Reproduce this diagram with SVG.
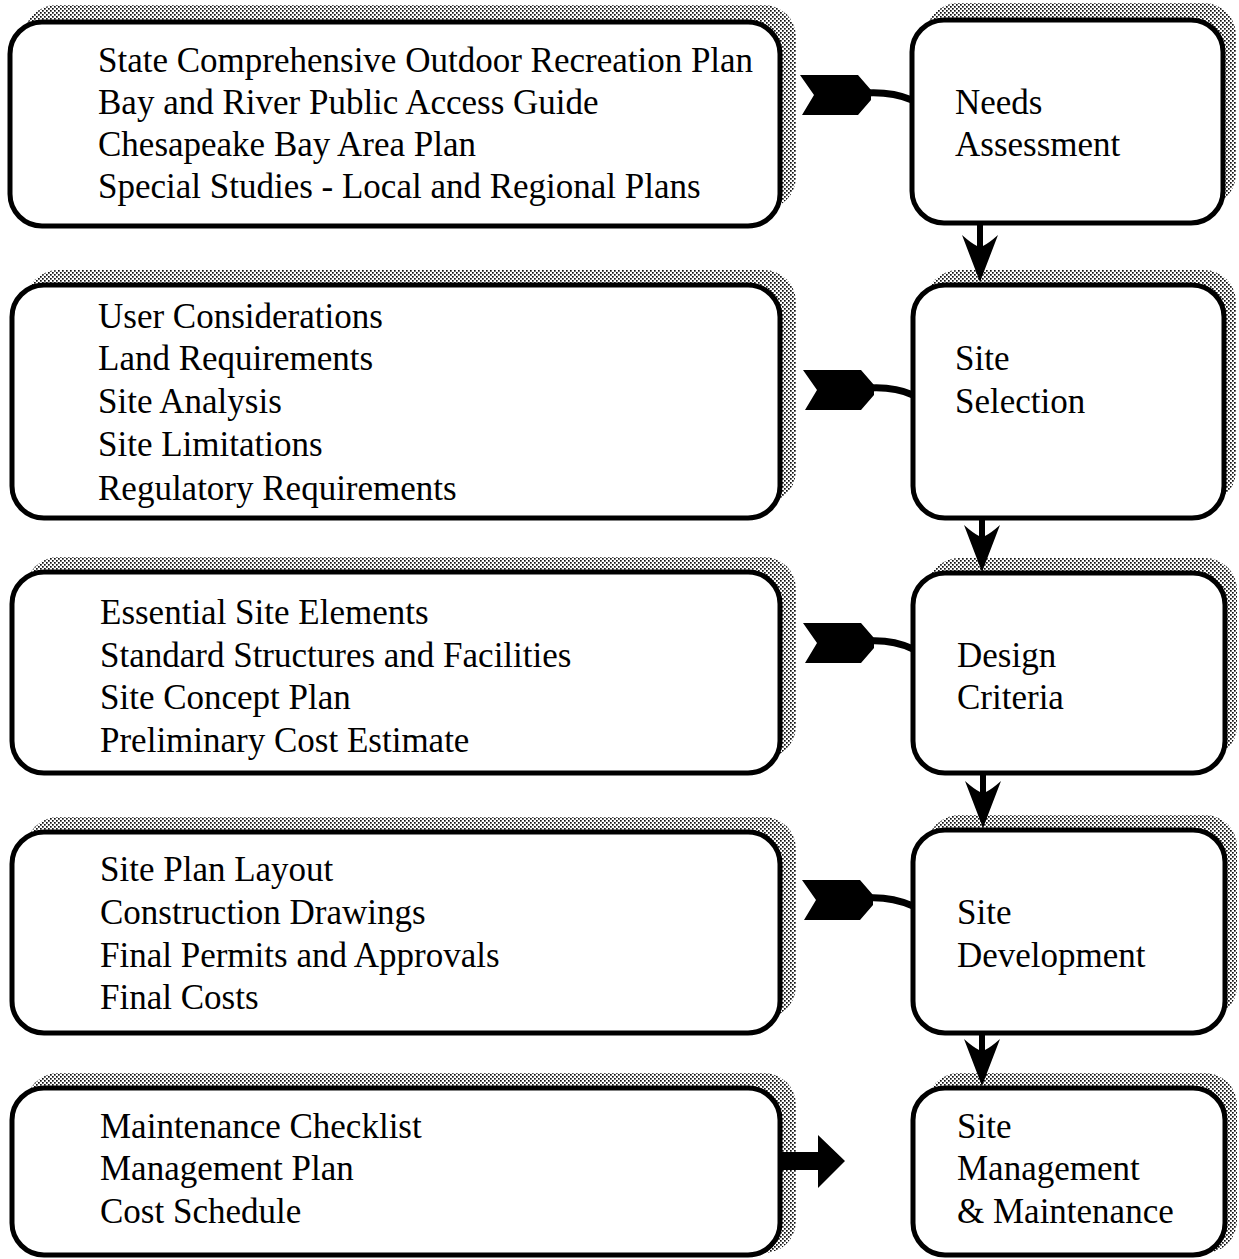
<svg xmlns="http://www.w3.org/2000/svg" width="1239" height="1259" viewBox="0 0 1239 1259">
<defs>
<pattern id="dots" width="4" height="4" patternUnits="userSpaceOnUse">
<rect width="4" height="4" fill="#fff"/>
<rect x="0" y="0" width="1.7" height="1.7" fill="#111"/>
<rect x="2" y="2" width="1.7" height="1.7" fill="#111"/>
</pattern>
<path id="flag" d="M0,-20 L58,-20 L71,-5 L71,5 L58,20 L2,20 L14,0 Z"/>
<path id="down" d="M0,0 L-18,-47 Q-9,-39 -3,-36 L-3,-60 L3,-60 L3,-36 Q9,-39 18,-47 Z"/>
</defs>
<style>
.shadow{fill:url(#dots);stroke:none}
.box{fill:#fff;stroke:#000;stroke-width:5}
.t{font-family:"Liberation Serif","Times New Roman",serif;font-size:35px;fill:#000}
.tail{fill:none;stroke:#000;stroke-width:7;stroke-linecap:round}
</style>
<rect width="1239" height="1259" fill="#fff"/>

<g id="shadows">
<rect class="shadow" x="24" y="5" width="772" height="204" rx="32"/>
<rect class="shadow" x="926" y="3" width="310" height="203" rx="32"/>
<rect class="shadow" x="26" y="270" width="770" height="233" rx="32"/>
<rect class="shadow" x="926" y="270" width="310" height="233" rx="32"/>
<rect class="shadow" x="26" y="557" width="770" height="201" rx="32"/>
<rect class="shadow" x="927" y="558" width="310" height="200" rx="32"/>
<rect class="shadow" x="26" y="817" width="770" height="201" rx="32"/>
<rect class="shadow" x="927" y="815" width="310" height="203" rx="32"/>
<rect class="shadow" x="26" y="1073" width="770" height="180" rx="32"/>
<rect class="shadow" x="927" y="1073" width="310" height="180" rx="32"/>
</g>

<g id="connectors">
<use href="#flag" x="800" y="95"/>
<path class="tail" d="M866,93 C884,92 900,95 912,100"/>
<use href="#flag" x="803" y="390"/>
<path class="tail" d="M869,388 C887,387 902,390 913,395"/>
<use href="#flag" x="803" y="643"/>
<path class="tail" d="M869,641 C887,640 902,644 913,649"/>
<use href="#flag" x="802" y="900"/>
<path class="tail" d="M868,898 C886,897 901,901 913,906"/>
<use href="#down" x="980" y="282"/>
<use href="#down" x="982" y="572"/>
<use href="#down" x="983" y="828"/>
<use href="#down" x="982" y="1086"/>
<path d="M780,1152 L818,1152 L818,1135 L845,1161 L818,1188 L818,1170 L780,1170 Z"/>
</g>

<g id="node-sources">
<rect class="box" x="10" y="22" width="770" height="204" rx="32"/>
<text class="t" x="98" y="72">State Comprehensive Outdoor Recreation Plan</text>
<text class="t" x="98" y="114">Bay and River Public Access Guide</text>
<text class="t" x="98" y="156">Chesapeake Bay Area Plan</text>
<text class="t" x="98" y="198">Special Studies - Local and Regional Plans</text>
</g>
<g id="node-needs">
<rect class="box" x="912" y="20" width="311" height="203" rx="32"/>
<text class="t" x="955" y="114">Needs</text>
<text class="t" x="955" y="156">Assessment</text>
</g>

<g id="node-considerations">
<rect class="box" x="12" y="285" width="768" height="233" rx="32"/>
<text class="t" x="98" y="328">User Considerations</text>
<text class="t" x="98" y="370">Land Requirements</text>
<text class="t" x="98" y="413">Site Analysis</text>
<text class="t" x="98" y="456">Site Limitations</text>
<text class="t" x="98" y="500">Regulatory Requirements</text>
</g>
<g id="node-selection">
<rect class="box" x="913" y="285" width="311" height="233" rx="32"/>
<text class="t" x="955" y="370">Site</text>
<text class="t" x="955" y="413">Selection</text>
</g>

<g id="node-elements">
<rect class="box" x="12" y="572" width="768" height="201" rx="32"/>
<text class="t" x="100" y="624">Essential Site Elements</text>
<text class="t" x="100" y="667">Standard Structures and Facilities</text>
<text class="t" x="100" y="709">Site Concept Plan</text>
<text class="t" x="100" y="752">Preliminary Cost Estimate</text>
</g>
<g id="node-design">
<rect class="box" x="913" y="573" width="312" height="200" rx="32"/>
<text class="t" x="957" y="667">Design</text>
<text class="t" x="957" y="709">Criteria</text>
</g>

<g id="node-plan">
<rect class="box" x="12" y="832" width="768" height="201" rx="32"/>
<text class="t" x="100" y="881">Site Plan Layout</text>
<text class="t" x="100" y="924">Construction Drawings</text>
<text class="t" x="100" y="967">Final Permits and Approvals</text>
<text class="t" x="100" y="1009">Final Costs</text>
</g>
<g id="node-development">
<rect class="box" x="913" y="830" width="312" height="203" rx="32"/>
<text class="t" x="957" y="924">Site</text>
<text class="t" x="957" y="967">Development</text>
</g>

<g id="node-maintenance-list">
<rect class="box" x="12" y="1088" width="768" height="167" rx="32"/>
<text class="t" x="100" y="1138">Maintenance Checklist</text>
<text class="t" x="100" y="1180">Management Plan</text>
<text class="t" x="100" y="1223">Cost Schedule</text>
</g>
<g id="node-management">
<rect class="box" x="913" y="1088" width="312" height="167" rx="32"/>
<text class="t" x="957" y="1138">Site</text>
<text class="t" x="957" y="1180">Management</text>
<text class="t" x="957" y="1223">&amp; Maintenance</text>
</g>
</svg>
